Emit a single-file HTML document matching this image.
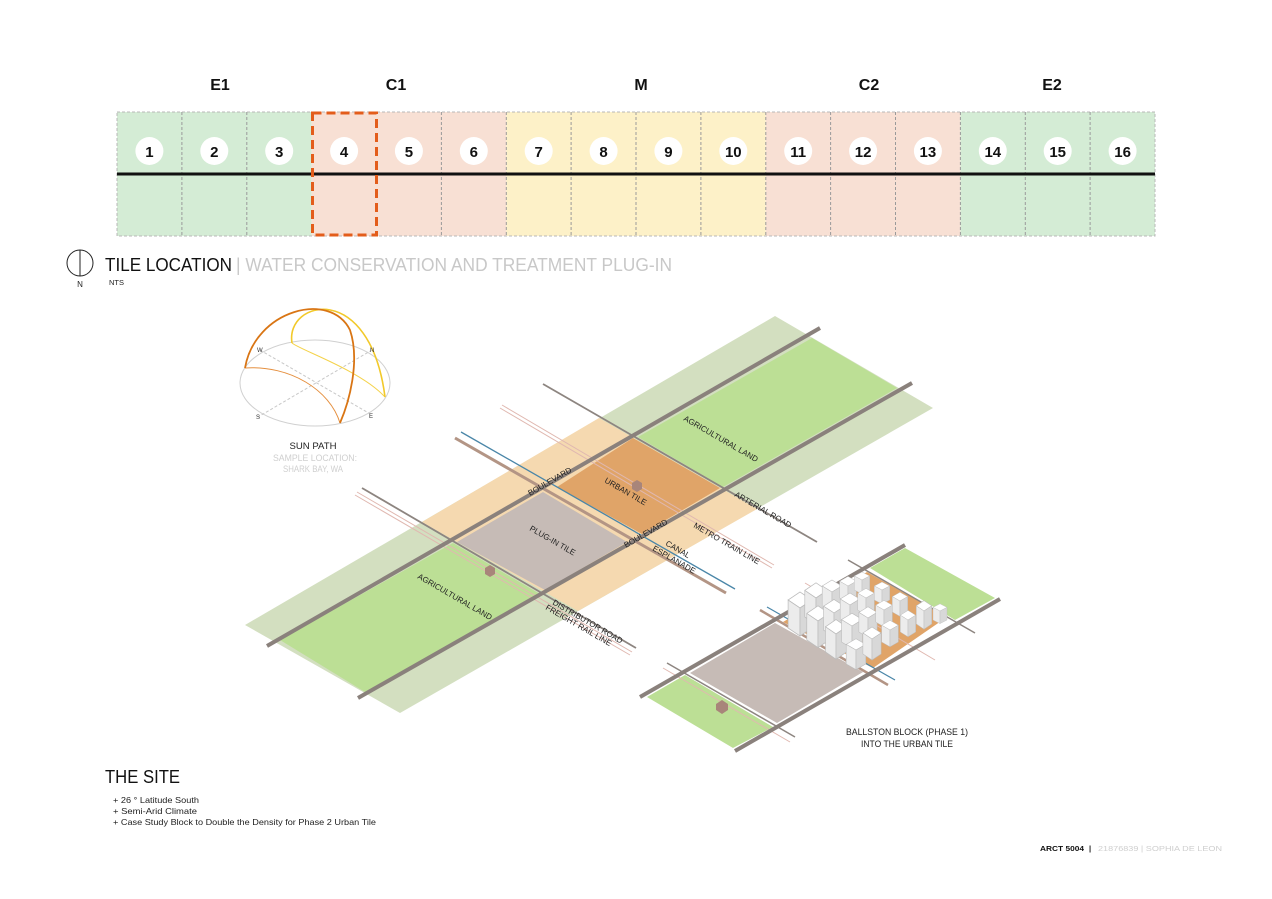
<!DOCTYPE html>
<html><head><meta charset="utf-8"><style>
html,body{margin:0;padding:0;background:#fff;}
svg{display:block;}
.c{font-family:"Liberation Sans Narrow","Liberation Sans",sans-serif;}
.a{font-family:"Liberation Sans",sans-serif;}
</style></head><body>
<svg width="1272" height="899" viewBox="0 0 1272 899" xmlns="http://www.w3.org/2000/svg">
<defs>
<g id="bx">
<path d="M0,-18 L7,-14 L0,-10 L-7,-14Z" fill="#fff" stroke="#bbb" stroke-width="0.4"/>
<path d="M-7,-14 L0,-10 L0,4 L-7,0Z" fill="#ececec" stroke="#bbb" stroke-width="0.4"/>
<path d="M0,-10 L7,-14 L7,0 L0,4Z" fill="#d8d8d8" stroke="#bbb" stroke-width="0.4"/>
</g>
</defs>
<rect width="1272" height="899" fill="#fff"/>

<!-- top strip -->
<g>
<rect x="117" y="112" width="194.6" height="124" fill="#d4ecd5"/>
<rect x="311.6" y="112" width="194.7" height="124" fill="#f8e0d4"/>
<rect x="506.3" y="112" width="259.5" height="124" fill="#fdf1c8"/>
<rect x="765.8" y="112" width="194.6" height="124" fill="#f8e0d4"/>
<rect x="960.4" y="112" width="194.6" height="124" fill="#d4ecd5"/>
<rect x="117" y="112" width="1038" height="124" fill="none" stroke="#b8b8b8" stroke-dasharray="3,2" stroke-width="1"/>
<g stroke="#9a9a9a" stroke-dasharray="3,2" stroke-width="1">
<line x1="181.9" y1="112" x2="181.9" y2="236"/><line x1="246.8" y1="112" x2="246.8" y2="236"/>
<line x1="441.4" y1="112" x2="441.4" y2="236"/><line x1="506.3" y1="112" x2="506.3" y2="236"/>
<line x1="571.1" y1="112" x2="571.1" y2="236"/><line x1="636" y1="112" x2="636" y2="236"/>
<line x1="700.9" y1="112" x2="700.9" y2="236"/><line x1="765.8" y1="112" x2="765.8" y2="236"/>
<line x1="830.6" y1="112" x2="830.6" y2="236"/><line x1="895.5" y1="112" x2="895.5" y2="236"/>
<line x1="960.4" y1="112" x2="960.4" y2="236"/><line x1="1025.3" y1="112" x2="1025.3" y2="236"/>
<line x1="1090.1" y1="112" x2="1090.1" y2="236"/>
</g>
<line x1="117" y1="174" x2="1155" y2="174" stroke="#111" stroke-width="3"/>
<rect x="312.5" y="113" width="64" height="122" fill="none" stroke="#e35d1b" stroke-width="3" stroke-dasharray="9,5"/>
<g fill="#fff">
<circle cx="149.4" cy="151" r="14"/><circle cx="214.3" cy="151" r="14"/><circle cx="279.2" cy="151" r="14"/><circle cx="344.1" cy="151" r="14"/>
<circle cx="408.9" cy="151" r="14"/><circle cx="473.8" cy="151" r="14"/><circle cx="538.7" cy="151" r="14"/><circle cx="603.6" cy="151" r="14"/>
<circle cx="668.4" cy="151" r="14"/><circle cx="733.3" cy="151" r="14"/><circle cx="798.2" cy="151" r="14"/><circle cx="863.1" cy="151" r="14"/>
<circle cx="927.9" cy="151" r="14"/><circle cx="992.8" cy="151" r="14"/><circle cx="1057.7" cy="151" r="14"/><circle cx="1122.6" cy="151" r="14"/>
</g>
<g class="a" font-size="15" font-weight="bold" text-anchor="middle" fill="#111">
<text x="149.4" y="157">1</text><text x="214.3" y="157">2</text><text x="279.2" y="157">3</text><text x="344.1" y="157">4</text>
<text x="408.9" y="157">5</text><text x="473.8" y="157">6</text><text x="538.7" y="157">7</text><text x="603.6" y="157">8</text>
<text x="668.4" y="157">9</text><text x="733.3" y="157">10</text><text x="798.2" y="157">11</text><text x="863.1" y="157">12</text>
<text x="927.9" y="157">13</text><text x="992.8" y="157">14</text><text x="1057.7" y="157">15</text><text x="1122.6" y="157">16</text>
</g>
<g class="a" font-size="16" font-weight="bold" text-anchor="middle" fill="#111">
<text x="220" y="90">E1</text><text x="396" y="90">C1</text><text x="641" y="90">M</text><text x="869" y="90">C2</text><text x="1052" y="90">E2</text>
</g>
</g>

<!-- tile location heading -->
<circle cx="80" cy="263" r="13" fill="none" stroke="#222" stroke-width="1"/>
<line x1="80" y1="250" x2="80" y2="276" stroke="#222" stroke-width="1"/>
<text x="80" y="287" class="a" font-size="8" text-anchor="middle" fill="#222">N</text>
<text x="105" y="271" class="a" font-size="18" fill="#111" textLength="127" lengthAdjust="spacingAndGlyphs">TILE LOCATION</text>
<text x="236" y="271" class="a" font-size="18" fill="#c8c8c8" textLength="436" lengthAdjust="spacingAndGlyphs">| WATER CONSERVATION AND TREATMENT PLUG-IN</text>
<text x="109" y="285" class="a" font-size="7.5" fill="#222">NTS</text>

<!-- sun path -->
<g fill="none">
<ellipse cx="315" cy="383" rx="75" ry="43" stroke="#d0d0d0" stroke-width="1"/>
<line x1="260" y1="350" x2="372" y2="415" stroke="#c8c8c8" stroke-dasharray="3,2"/>
<line x1="372" y1="350" x2="258" y2="417" stroke="#c8c8c8" stroke-dasharray="3,2"/>
<path d="M292,343 C300,350 360,370 385,397" stroke="#f4d24a" stroke-width="1"/>
<path d="M245,368 C290,365 330,390 340,423" stroke="#e59040" stroke-width="1"/>
<path d="M292,343 C285,300 370,280 385,397" stroke="#f2c92a" stroke-width="1.6"/>
<path d="M245,368 C255,310 330,290 350,330 C360,360 350,400 340,423" stroke="#d97514" stroke-width="1.8"/>
</g>
<g class="a" font-size="6" fill="#333"><text x="257" y="352">W</text><text x="370" y="352">N</text><text x="256" y="419">S</text><text x="369" y="418">E</text></g>
<text x="313" y="449" class="c" font-size="9" text-anchor="middle" fill="#222" textLength="47" lengthAdjust="spacingAndGlyphs">SUN PATH</text>
<text x="315" y="461" class="c" font-size="9" text-anchor="middle" fill="#cfcfcf" textLength="84" lengthAdjust="spacingAndGlyphs">SAMPLE LOCATION:</text>
<text x="313" y="472" class="c" font-size="9" text-anchor="middle" fill="#cfcfcf" textLength="60" lengthAdjust="spacingAndGlyphs">SHARK BAY, WA</text>

<!-- main diagram -->
<polygon points="245,625 775,316 933,408 400,713" fill="#d3dfc0"/>
<polygon points="422,522 599,418 757,509 578,611" fill="#f5d9b0"/>
<polygon points="638,437 812,338 897,388 723,487" fill="#bcdf95"/>
<polygon points="280,640 453,543 540,594 365,692" fill="#bcdf95"/>
<polygon points="557,487 633,438 720,488 642,534" fill="#e0a468"/>
<polygon points="543,492 627,542 545,590 457,542" fill="#c6bbb6"/>
<line x1="500" y1="408" x2="772" y2="568" stroke="#e0b8b0" stroke-width="1"/>
<line x1="502" y1="405" x2="774" y2="565" stroke="#e0b8b0" stroke-width="1"/>
<line x1="355" y1="495" x2="630" y2="655" stroke="#e0b8b0" stroke-width="1"/>
<line x1="357" y1="492" x2="632" y2="652" stroke="#e0b8b0" stroke-width="1"/>
<line x1="543" y1="384" x2="817" y2="542" stroke="#8d8580" stroke-width="1.8"/>
<line x1="362" y1="488" x2="636" y2="648" stroke="#8d8580" stroke-width="1.8"/>
<line x1="455" y1="438" x2="726" y2="593" stroke="#b39585" stroke-width="3"/>
<line x1="461" y1="432" x2="735" y2="589" stroke="#4a86a8" stroke-width="1.3"/>
<line x1="267" y1="646" x2="820" y2="328" stroke="#8a817c" stroke-width="4"/>
<line x1="358" y1="698" x2="912" y2="383" stroke="#8a817c" stroke-width="4"/>
<g><path d="M632,483 l5,-3 l5,3 v6 l-5,3 l-5,-3z" fill="#a8857a"/><path d="M485,568 l5,-3 l5,3 v6 l-5,3 l-5,-3z" fill="#a8857a"/></g>
<g class="c" font-size="8" fill="#222">
<text transform="translate(683,420) rotate(30)">AGRICULTURAL LAND</text>
<text transform="translate(417,578) rotate(30)">AGRICULTURAL LAND</text>
<text transform="translate(604,482) rotate(30)">URBAN TILE</text>
<text transform="translate(529,530) rotate(30)">PLUG-IN TILE</text>
<text transform="translate(734,496) rotate(30)">ARTERIAL ROAD</text>
<text transform="translate(693,527) rotate(30)">METRO TRAIN LINE</text>
<text transform="translate(665,545) rotate(30)">CANAL</text>
<text transform="translate(652,550) rotate(30)">ESPLANADE</text>
<text transform="translate(552,604) rotate(30)">DISTRIBUTOR ROAD</text>
<text transform="translate(545,609) rotate(30)">FREIGHT RAIL LINE</text>
<text transform="translate(530,496) rotate(-30)">BOULEVARD</text>
<text transform="translate(626,548) rotate(-30)">BOULEVARD</text>
</g>

<!-- ballston block -->
<polygon points="647,697 685,675 773,727 733,748" fill="#bcdf95"/>
<polygon points="870,568 905,548 995,598 955,620" fill="#bcdf95"/>
<polygon points="690,673 775,623 863,672 777,723" fill="#c6bbb6"/>
<polygon points="783,622 867,572 947,617 873,668" fill="#e0a468"/>
<line x1="805" y1="583" x2="935" y2="660" stroke="#e0b8b0" stroke-width="1"/>
<line x1="663" y1="668" x2="790" y2="742" stroke="#e0b8b0" stroke-width="1"/>
<line x1="848" y1="560" x2="975" y2="633" stroke="#8d8580" stroke-width="1.5"/>
<line x1="667" y1="663" x2="795" y2="737" stroke="#8d8580" stroke-width="1.5"/>
<line x1="760" y1="610" x2="888" y2="685" stroke="#b39585" stroke-width="2.5"/>
<line x1="767" y1="607" x2="895" y2="680" stroke="#4a86a8" stroke-width="1.2"/>
<line x1="640" y1="697" x2="905" y2="545" stroke="#8a817c" stroke-width="4"/>
<line x1="735" y1="751" x2="1000" y2="599" stroke="#8a817c" stroke-width="4"/>
<path d="M716,704 l6,-4 l6,4 v6 l-6,4 l-6,-4z" fill="#a8857a"/>
<g>
<use href="#bx" transform="translate(800,628) scale(1.7,2)"/>
<use href="#bx" transform="translate(816,617) scale(1.6,1.9)"/>
<use href="#bx" transform="translate(832,607) scale(1.4,1.5)"/>
<use href="#bx" transform="translate(848,598) scale(1.2,1.2)"/>
<use href="#bx" transform="translate(862,590) scale(1.1,1)"/>
<use href="#bx" transform="translate(818,640) scale(1.6,1.9)"/>
<use href="#bx" transform="translate(834,630) scale(1.5,1.7)"/>
<use href="#bx" transform="translate(850,620) scale(1.4,1.5)"/>
<use href="#bx" transform="translate(866,610) scale(1.2,1.2)"/>
<use href="#bx" transform="translate(882,600) scale(1.1,1)"/>
<use href="#bx" transform="translate(836,652) scale(1.5,1.8)"/>
<use href="#bx" transform="translate(852,642) scale(1.5,1.6)"/>
<use href="#bx" transform="translate(868,632) scale(1.3,1.4)"/>
<use href="#bx" transform="translate(884,622) scale(1.2,1.2)"/>
<use href="#bx" transform="translate(900,612) scale(1.1,1.1)"/>
<use href="#bx" transform="translate(856,664) scale(1.4,1.4)"/>
<use href="#bx" transform="translate(872,654) scale(1.3,1.5)"/>
<use href="#bx" transform="translate(890,642) scale(1.2,1.2)"/>
<use href="#bx" transform="translate(908,632) scale(1.1,1.2)"/>
<use href="#bx" transform="translate(924,624) scale(1.1,1.3)"/>
<use href="#bx" transform="translate(940,620) scale(1,0.9)"/>
</g>
<text x="907" y="735" class="c" font-size="9" text-anchor="middle" fill="#222" textLength="122" lengthAdjust="spacingAndGlyphs">BALLSTON BLOCK (PHASE 1)</text>
<text x="907" y="747" class="c" font-size="9" text-anchor="middle" fill="#222" textLength="92" lengthAdjust="spacingAndGlyphs">INTO THE URBAN TILE</text>

<!-- the site -->
<text x="105" y="783" class="a" font-size="18" fill="#111" textLength="75" lengthAdjust="spacingAndGlyphs">THE SITE</text>
<g class="a" font-size="8.5" fill="#222">
<text x="113" y="803" textLength="86" lengthAdjust="spacingAndGlyphs">+  26 ° Latitude South</text>
<text x="113" y="814" textLength="84" lengthAdjust="spacingAndGlyphs">+ Semi-Arid Climate</text>
<text x="113" y="825" textLength="263" lengthAdjust="spacingAndGlyphs">+ Case Study Block to Double the Density for Phase 2 Urban Tile</text>
</g>
<text x="1040" y="851" class="a" font-size="7.5" font-weight="bold" fill="#111" textLength="44" lengthAdjust="spacingAndGlyphs">ARCT 5004</text>
<text x="1089" y="851" class="a" font-size="7.5" font-weight="bold" fill="#111">|</text>
<text x="1098" y="851" class="a" font-size="7.5" fill="#cfcfcf" textLength="124" lengthAdjust="spacingAndGlyphs">21876839  |  SOPHIA DE LEON</text>
</svg>
</body></html>
